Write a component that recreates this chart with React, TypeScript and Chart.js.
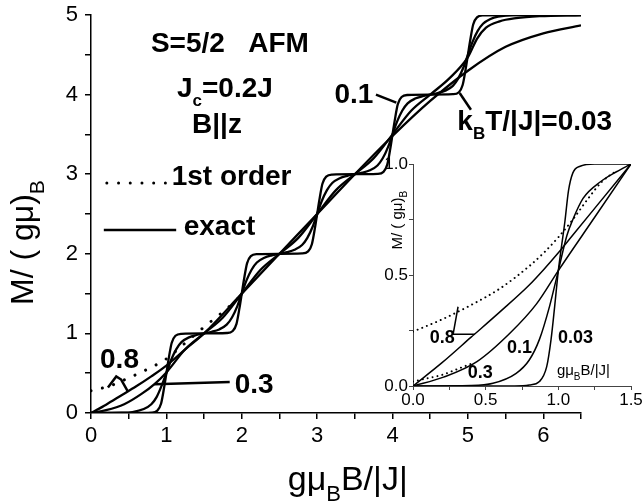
import React, { useEffect, useRef } from 'react';
import { Chart, registerables } from 'chart.js';
Chart.register(...registerables);

// ---------- Main plot data (x = gμB·B/|J|, y = M/(gμB)) ----------
const X_003 = [0, 0.6, 0.8, 0.88, 0.93, 0.97, 1.0, 1.03, 1.07, 1.12, 1.2, 1.5,
  1.8, 1.88, 1.93, 1.97, 2.0, 2.03, 2.07, 2.12, 2.2, 2.5,
  2.8, 2.88, 2.93, 2.97, 3.0, 3.03, 3.07, 3.12, 3.2, 3.5,
  3.8, 3.88, 3.93, 3.97, 4.0, 4.03, 4.07, 4.12, 4.2, 4.5,
  4.8, 4.88, 4.93, 4.97, 5.0, 5.03, 5.07, 5.12, 5.2, 5.5, 6.5];
const M_003 = [0, 0, 0.005, 0.03, 0.12, 0.32, 0.5, 0.68, 0.88, 0.97, 0.995, 1,
  1.005, 1.03, 1.12, 1.32, 1.5, 1.68, 1.88, 1.97, 1.995, 2,
  2.005, 2.03, 2.12, 2.32, 2.5, 2.68, 2.88, 2.97, 2.995, 3,
  3.005, 3.03, 3.12, 3.32, 3.5, 3.68, 3.88, 3.97, 3.995, 4,
  4.005, 4.03, 4.12, 4.32, 4.5, 4.68, 4.88, 4.97, 4.995, 5, 5];

const X_01 = [0, 0.4, 0.55, 0.7, 0.8, 0.87, 0.94, 1.0, 1.06, 1.13, 1.2, 1.3, 1.4, 1.5,
  1.6, 1.7, 1.8, 1.87, 1.94, 2.0, 2.06, 2.13, 2.2, 2.3, 2.4, 2.5,
  2.6, 2.7, 2.8, 2.87, 2.94, 3.0, 3.06, 3.13, 3.2, 3.3, 3.4, 3.5,
  3.6, 3.7, 3.8, 3.87, 3.94, 4.0, 4.06, 4.13, 4.2, 4.3, 4.4, 4.5,
  4.6, 4.7, 4.8, 4.87, 4.94, 5.0, 5.06, 5.13, 5.2, 5.3, 5.4, 5.6, 6.5];
const M_01 = [0, 0.003, 0.012, 0.05, 0.11, 0.2, 0.35, 0.5, 0.66, 0.8, 0.89, 0.95, 0.98, 1.0,
  1.02, 1.05, 1.11, 1.2, 1.34, 1.5, 1.66, 1.8, 1.89, 1.95, 1.98, 2.0,
  2.02, 2.05, 2.11, 2.2, 2.34, 2.5, 2.66, 2.8, 2.89, 2.95, 2.98, 3.0,
  3.02, 3.05, 3.11, 3.2, 3.34, 3.5, 3.66, 3.8, 3.89, 3.95, 3.98, 4.0,
  4.02, 4.05, 4.11, 4.2, 4.34, 4.5, 4.66, 4.8, 4.89, 4.95, 4.98, 5.0, 5.0];

const X_03 = [0, 0.2, 0.44, 0.67, 0.85, 1.0, 1.25, 1.5, 1.75, 2.0, 2.25, 2.5, 2.75, 3.0,
  3.25, 3.5, 3.75, 4.0, 4.25, 4.5, 4.75, 5.0, 5.12, 5.24, 5.42, 5.64, 5.95, 6.5];
const M_03 = [0, 0.035, 0.11, 0.24, 0.37, 0.51, 0.8, 1.0, 1.2, 1.5, 1.8, 2.0, 2.2, 2.5,
  2.8, 3.0, 3.2, 3.5, 3.8, 4.0, 4.2, 4.47, 4.7, 4.84, 4.92, 4.96, 4.985, 5.0];

const X_08 = [0, 0.2, 0.4, 0.6, 0.8, 1.0, 1.25, 1.5, 2.0, 2.5, 3.0, 3.5, 4.0, 4.5, 5.0, 5.5, 6.0, 6.5];
const M_08 = [0, 0.105, 0.22, 0.335, 0.46, 0.595, 0.8, 1.0, 1.5, 2.0, 2.5, 3.0, 3.48, 3.92, 4.3, 4.6, 4.77, 4.87];

// first-order (dotted), kT/|J| = 0.8
const X_FO08 = [0, 0.25, 0.5, 0.75, 1.0, 1.25, 1.5, 1.75, 2.0];
const M_FO08 = [0.28, 0.34, 0.44, 0.55, 0.68, 0.88, 1.08, 1.27, 1.48];

// ---------- Inset data ----------
const IX_003 = [0, 0.7, 0.8, 0.87, 0.92, 0.95, 0.975, 1.0, 1.02, 1.045, 1.07, 1.1, 1.15, 1.25, 1.5];
const IM_003 = [0, 0, 0.004, 0.02, 0.087, 0.21, 0.36, 0.52, 0.62, 0.74, 0.88, 0.96, 0.99, 1.0, 1.0];
const IX_01 = [0, 0.4, 0.55, 0.71, 0.8, 0.87, 0.94, 1.0, 1.06, 1.1, 1.17, 1.29, 1.4, 1.5];
const IM_01 = [0, 0.002, 0.012, 0.057, 0.117, 0.21, 0.36, 0.52, 0.68, 0.75, 0.845, 0.92, 0.965, 1.0];
const IX_03 = [0, 0.21, 0.44, 0.67, 0.85, 1.0, 1.25, 1.5];
const IM_03 = [0, 0.04, 0.11, 0.24, 0.37, 0.52, 0.76, 1.0];
const IX_08 = [0, 0.2, 0.4, 0.6, 0.8, 0.9, 1.0, 1.1, 1.25, 1.5];
const IM_08 = [0, 0.105, 0.22, 0.335, 0.455, 0.525, 0.6, 0.68, 0.8, 1.0];
const IX_FO08 = [0, 0.2, 0.4, 0.6, 0.8, 0.9, 1.0, 1.1, 1.2, 1.3, 1.4];
const IM_FO08 = [0.245, 0.3, 0.365, 0.44, 0.54, 0.6, 0.67, 0.75, 0.84, 0.92, 0.97];
const IX_FO03 = [0, 0.1, 0.2, 0.3, 0.4];
const IM_FO03 = [0.02, 0.035, 0.05, 0.075, 0.1];

const MAIN_X_TICKS = [0, 1, 2, 3, 4, 5, 6];
const MAIN_Y_TICKS = [0, 1, 2, 3, 4, 5];
const INSET_TICKS = [0, 0.5, 1.0, 1.5];

const FONT = "'Liberation Sans', Arial, sans-serif";

const pts = (xs: number[], ys: number[]) => xs.map((x, i) => ({ x, y: ys[i] }));

type Part = { t: string; sub?: boolean };
function rich(ctx: CanvasRenderingContext2D, parts: Part[], x: number, y: number, size: number, weight: string, subScale = 0.6, subDrop = 0.35) {
  let cx = x;
  for (const p of parts) {
    const s = p.sub ? Math.round(size * subScale) : size;
    ctx.font = `${weight} ${s}px ${FONT}`;
    ctx.fillText(p.t, cx, y + (p.sub ? size * subDrop : 0));
    cx += ctx.measureText(p.t).width;
  }
}

function polyline(ctx: CanvasRenderingContext2D, xs: any, ys: any, pts2: number[][], width: number) {
  ctx.beginPath();
  pts2.forEach(([a, b], i) => {
    const px = xs.getPixelForValue(a), py = ys.getPixelForValue(b);
    if (i === 0) ctx.moveTo(px, py); else ctx.lineTo(px, py);
  });
  ctx.lineWidth = width;
  ctx.stroke();
}

const mainDecor = {
  id: 'mainDecor',
  afterDraw(chart: any) {
    const { ctx, scales: { x, y }, chartArea } = chart;
    const X = (v: number) => x.getPixelForValue(v);
    const Y = (v: number) => y.getPixelForValue(v);
    ctx.save();
    ctx.fillStyle = '#000';
    ctx.strokeStyle = '#000';
    ctx.textBaseline = 'alphabetic';
    ctx.textAlign = 'left';
    const B = 'bold';
    const S = 28;
    rich(ctx, [{ t: 'S=5/2   AFM' }], X(0.795), Y(4.54), S, B);
    rich(ctx, [{ t: 'J' }, { t: 'c', sub: true }, { t: '=0.2J' }], X(1.14), Y(3.975), S, B);
    rich(ctx, [{ t: 'B||z' }], X(1.34), Y(3.52), S, B);
    rich(ctx, [{ t: '1st order' }], X(1.07), Y(2.87), S, B);
    rich(ctx, [{ t: 'exact' }], X(1.23), Y(2.24), S, B);
    rich(ctx, [{ t: '0.1' }], X(3.23), Y(3.9), S, B);
    rich(ctx, [{ t: 'k' }, { t: 'B', sub: true }, { t: 'T/|J|=0.03' }], X(4.86), Y(3.56), S, B);
    rich(ctx, [{ t: '0.8' }], X(0.12), Y(0.566), S, B);
    rich(ctx, [{ t: '0.3' }], X(1.907), Y(0.25), S, B);

    // legend samples
    ctx.save();
    ctx.setLineDash([0.01, 11.7]);
    ctx.lineCap = 'round';
    polyline(ctx, x, y, [[0.21, 2.89], [1.05, 2.89]], 3);
    ctx.restore();
    polyline(ctx, x, y, [[0.17, 2.30], [1.13, 2.30]], 2.5);

    // pointers
    polyline(ctx, x, y, [[3.78, 4.0], [4.05, 3.9]], 2.5);
    polyline(ctx, x, y, [[5.04, 3.81], [4.89, 4.02]], 2.5);
    polyline(ctx, x, y, [[0.225, 0.32], [0.335, 0.46], [0.40, 0.42], [0.49, 0.27]], 2.5);
    polyline(ctx, x, y, [[0.84, 0.36], [1.84, 0.39]], 2.5);

    // axis titles
    rich(ctx, [{ t: 'gμ' }, { t: 'B', sub: true }, { t: 'B/|J|' }], X(2.61), chartArea.bottom + 77, 34, 'normal', 0.65, 0.33);
    ctx.translate(chartArea.left - 58, 305);
    ctx.rotate(-Math.PI / 2);
    rich(ctx, [{ t: 'M/ ( gμ)' }, { t: 'B', sub: true }], 0, 0, 32, 'normal', 0.65, 0.33);
    ctx.restore();
  },
};

const insetDecor = {
  id: 'insetDecor',
  afterDraw(chart: any) {
    const { ctx, scales: { x, y }, chartArea } = chart;
    const X = (v: number) => x.getPixelForValue(v);
    const Y = (v: number) => y.getPixelForValue(v);
    ctx.save();
    ctx.fillStyle = '#000';
    ctx.strokeStyle = '#000';
    ctx.textBaseline = 'alphabetic';
    ctx.textAlign = 'left';
    rich(ctx, [{ t: '0.8' }], X(0.115), Y(0.194), 18, 'bold');
    rich(ctx, [{ t: '0.1' }], X(0.646), Y(0.149), 18, 'bold');
    rich(ctx, [{ t: '0.3' }], X(0.377), Y(0.036), 18, 'bold');
    rich(ctx, [{ t: '0.03' }], X(0.998), Y(0.194), 18, 'bold');
    rich(ctx, [{ t: 'gμ' }, { t: 'B', sub: true }, { t: 'B/|J|' }], X(0.99), Y(0.05), 15, 'normal', 0.65, 0.33);
    polyline(ctx, x, y, [[0.425, 0.233], [0.276, 0.233], [0.31, 0.357]], 1.5);
    // rotated y title, between the 0.5 and 1.0 tick labels
    ctx.translate(chartArea.left - 11, Y(0.615));
    ctx.rotate(-Math.PI / 2);
    rich(ctx, [{ t: 'M/ ( gμ)' }, { t: 'B', sub: true }], 0, 0, 15, 'normal', 0.65, 0.33);
    ctx.restore();
  },
};

function axis(min: number, max: number, step: number, labels: number[], fontSize: number, tickLen: number, pad: number, fmt: (v: number) => string, size: number, horizontal: boolean, bw: number, col: string) {
  return {
    type: 'linear' as const,
    min, max,
    afterFit: (s: any) => {
      if (horizontal) s.height = size; else s.width = size;
      s.paddingLeft = 0; s.paddingRight = 0; s.paddingTop = 0; s.paddingBottom = 0;
    },
    ticks: {
      stepSize: step,
      autoSkip: false,
      maxRotation: 0,
      padding: pad,
      color: '#000',
      font: { family: FONT, size: fontSize },
      callback: (v: any) => (labels.some((l) => Math.abs(l - v) < 1e-9) ? fmt(v) : ''),
    },
    grid: { display: true, drawOnChartArea: false, drawTicks: true, tickLength: tickLen, color: col, lineWidth: bw },
    border: { display: true, color: col, width: bw },
  };
}

export default function App() {
  const mainRef = useRef<HTMLCanvasElement>(null);
  const insetRef = useRef<HTMLCanvasElement>(null);

  useEffect(() => {
    const solid = (data: any, w: number) => ({
      data, borderColor: '#000', borderWidth: w, pointRadius: 0, fill: false,
      cubicInterpolationMode: 'monotone' as const,
    });
    const dotted = (data: any, w: number, gap: number) => ({
      ...solid(data, w), borderDash: [0.01, gap], borderCapStyle: 'round' as const,
    });

    const main = new Chart(mainRef.current!, {
      type: 'line',
      data: {
        datasets: [
          dotted(pts(X_FO08, M_FO08), 3, 11.7),
          solid(pts(X_08, M_08), 2.3),
          solid(pts(X_03, M_03), 2.3),
          solid(pts(X_01, M_01), 2.3),
          solid(pts(X_003, M_003), 2.3),
        ],
      },
      options: {
        animation: false,
        responsive: false,
        devicePixelRatio: 1,
        layout: { padding: { left: 0, top: 15, right: 61, bottom: 0 } },
        plugins: { legend: { display: false }, tooltip: { enabled: false } },
        scales: {
          x: axis(0, 6.5, 0.5, MAIN_X_TICKS, 22, 6, 4, (v) => String(v), 91, true, 1.5, '#000'),
          y: axis(0, 5, 0.5, MAIN_Y_TICKS, 22, 6, 7, (v) => String(v), 91, false, 1.5, '#000'),
        },
      },
      plugins: [mainDecor],
    });

    const inset = new Chart(insetRef.current!, {
      type: 'line',
      data: {
        datasets: [
          dotted(pts(IX_FO08, IM_FO08), 2, 5),
          dotted(pts(IX_FO03, IM_FO03), 2, 5),
          solid(pts(IX_08, IM_08), 1.5),
          solid(pts(IX_03, IM_03), 1.5),
          solid(pts(IX_01, IM_01), 1.5),
          solid(pts(IX_003, IM_003), 1.5),
        ],
      },
      options: {
        animation: false,
        responsive: false,
        devicePixelRatio: 1,
        layout: { padding: { left: 0, top: 14, right: 11, bottom: 0 } },
        plugins: { legend: { display: false }, tooltip: { enabled: false } },
        scales: {
          x: axis(0, 1.5, 0.25, INSET_TICKS, 17, 4, 0, (v) => v.toFixed(1), 34, true, 1, '#444'),
          y: axis(0, 1.0, 0.25, INSET_TICKS, 17, 4, 1, (v) => v.toFixed(1), 58, false, 1, '#444'),
        },
      },
      plugins: [insetDecor],
    });

    return () => { main.destroy(); inset.destroy(); };
  }, []);

  return (
    <div style={{ position: 'absolute', left: 0, top: 0, width: 642, height: 504, background: '#fff' }}>
      <canvas ref={mainRef} width={642} height={504} style={{ position: 'absolute', left: 0, top: 0 }} />
      <canvas ref={insetRef} width={287} height={270} style={{ position: 'absolute', left: 355, top: 150 }} />
    </div>
  );
}
